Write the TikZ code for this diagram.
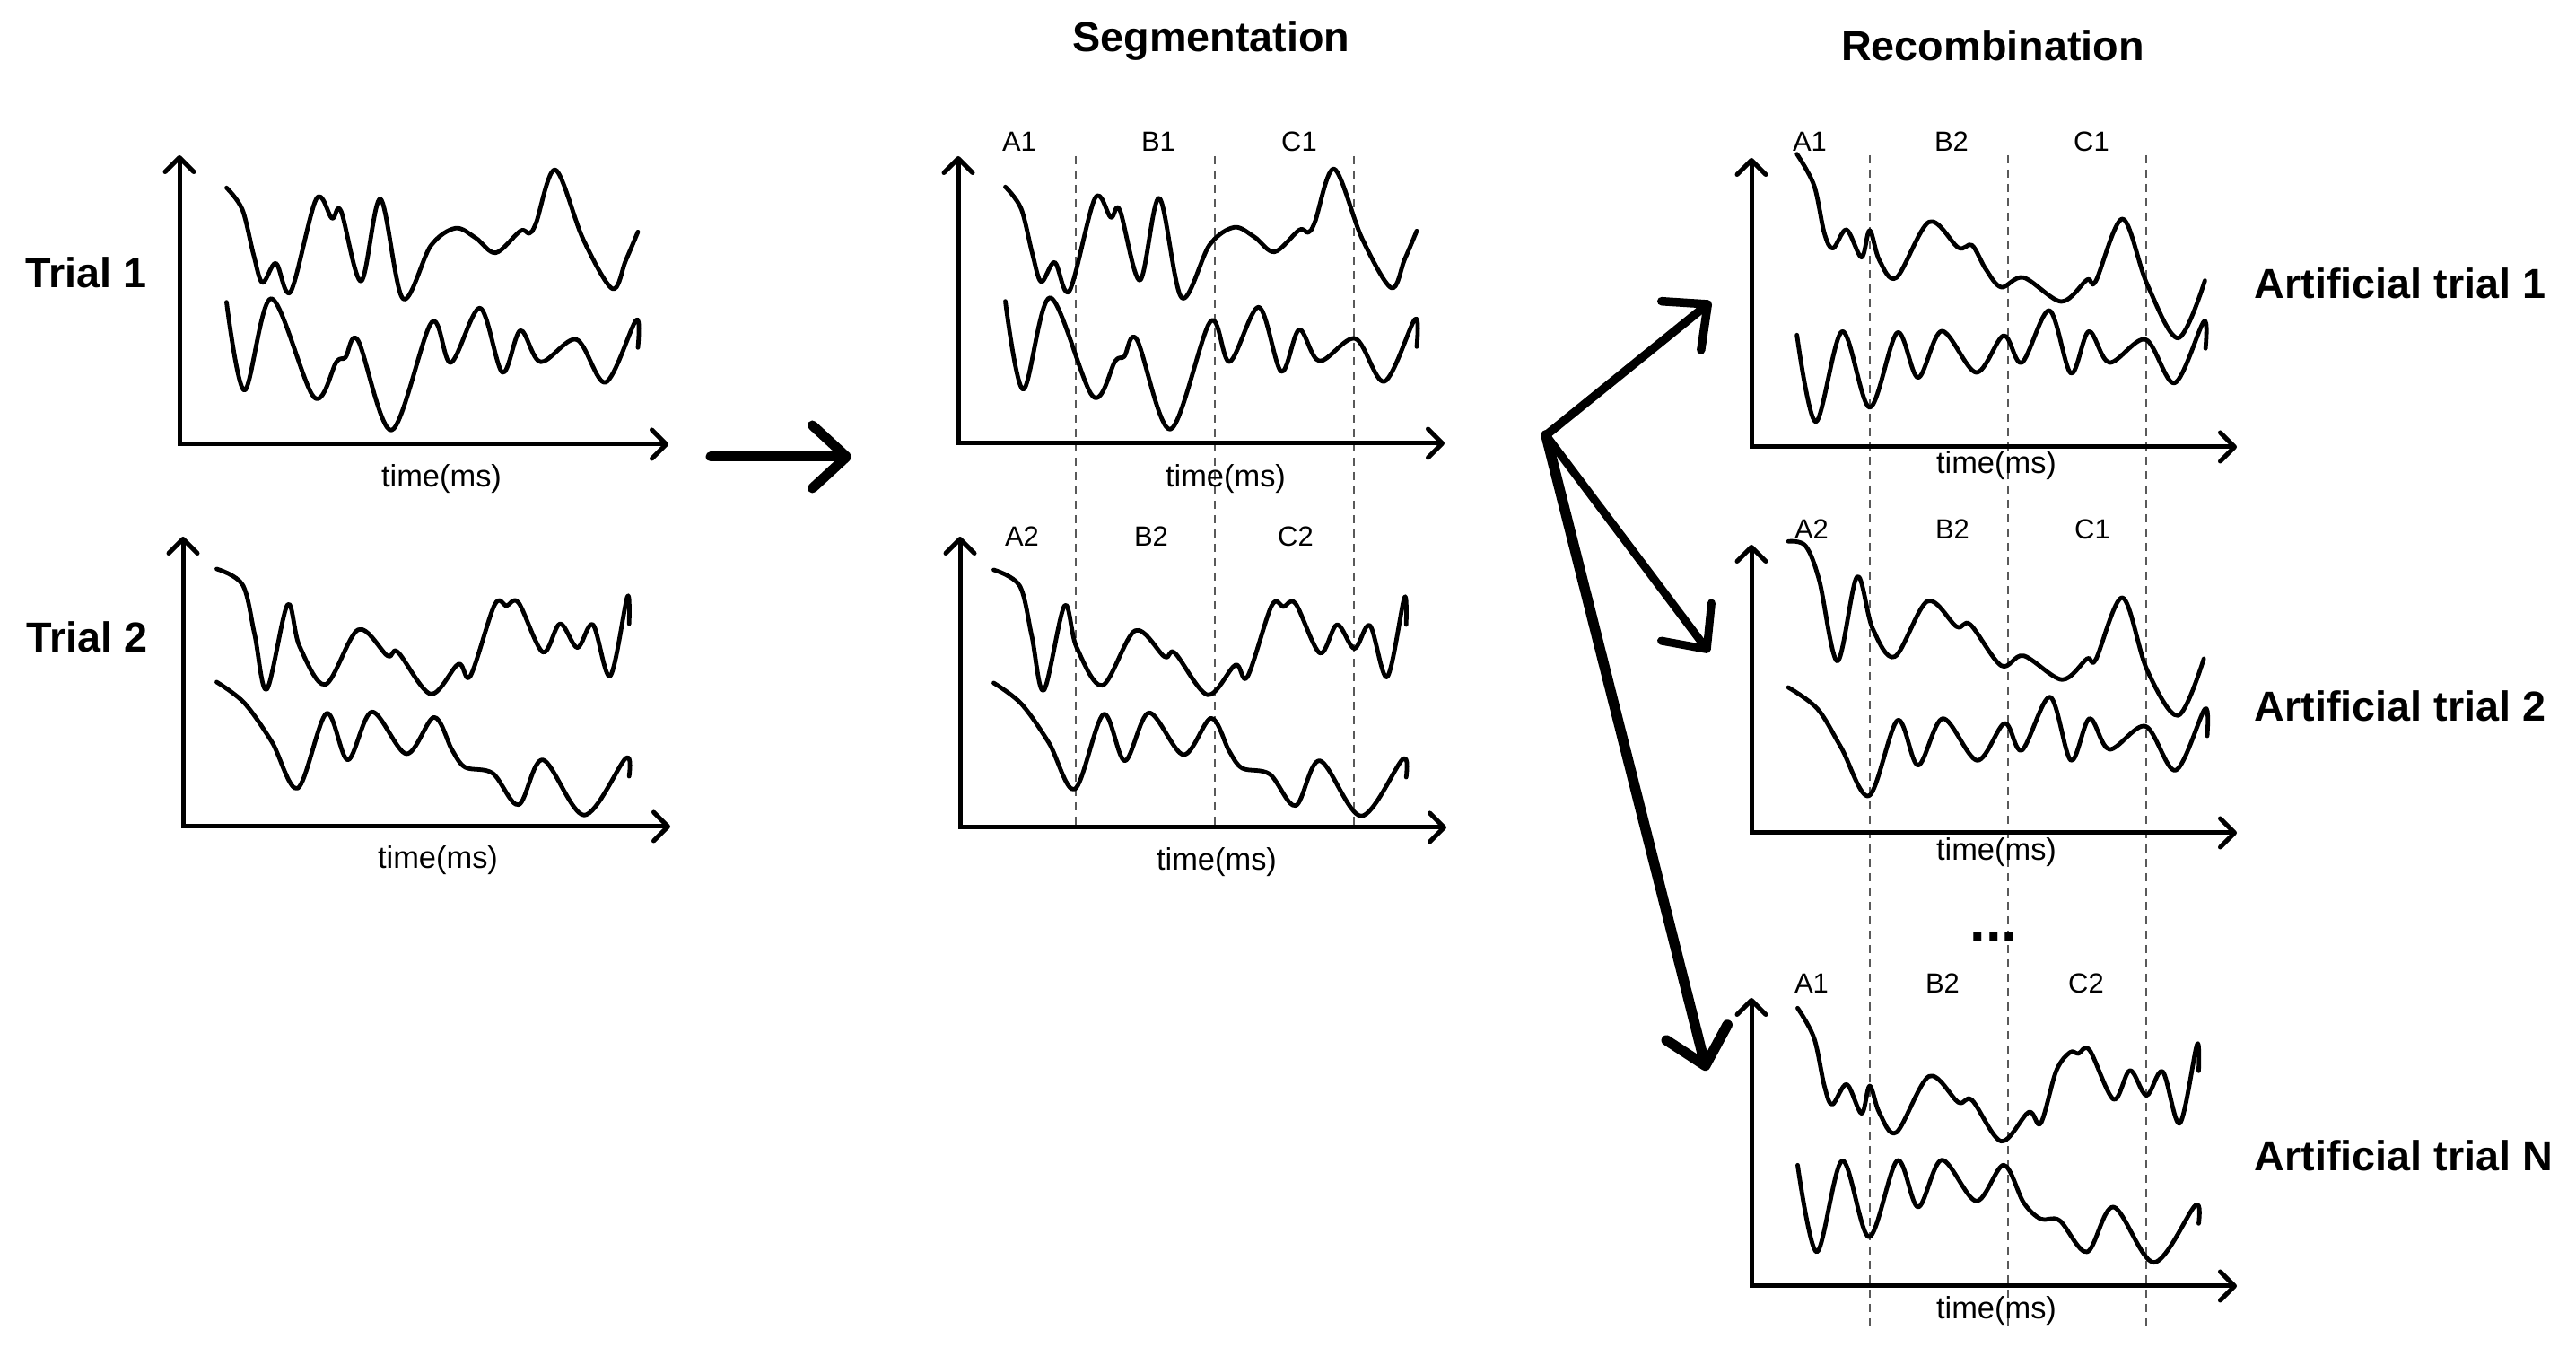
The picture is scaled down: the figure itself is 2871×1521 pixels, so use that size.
\documentclass[tikz,border=0pt]{standalone}
\usepackage{fontspec}
\setmainfont{Liberation Sans}
\usetikzlibrary{arrows.meta}
\tikzset{
  wave/.style={line width=0.48mm, line cap=round, line join=round},
  axis/.style={line width=0.5mm, line join=miter,
    {Straight Barb[length=1.6mm,width=3.2mm,round]}-{Straight Barb[length=1.6mm,width=3.2mm,round]}},
  segline/.style={line width=0.18mm, black!65, dash pattern=on 0.9mm off 0.7mm},
  bigarrow/.style={line width=1mm, line cap=round, -{Straight Barb[length=3.8mm,width=7mm,round]}},
  ttl/.style={font=\fontsize{13.3}{15}\selectfont\bfseries, inner sep=0pt},
  lbl/.style={font=\fontsize{8.8}{10}\selectfont, inner sep=0pt},
  tms/.style={font=\fontsize{9.8}{11}\selectfont, inner sep=0pt},
}
\newcommand\wvplot[1]{\draw[wave] plot[smooth,tension=0.55] coordinates {#1};}
\newcommand\waveTrialOneA{\wvplot{(52.5,-285.7) (70,-261.7) (82.5,-211.7) (92.5,-180) (107.5,-201.7) (124,-170) (152.5,-273.3) (170,-251.7) (180,-260) (202.5,-181.7) (224,-273.3) (249,-162.3) (280,-221) (307.5,-240.7) (330,-230) (352.5,-213.3) (380,-237.7) (390,-235) (397.5,-246.7) (419,-305.7) (450,-228.3) (482.5,-173.3) (497.5,-205) (511,-236.7)}}
\newcommand\waveTrialOneB{\wvplot{(52.5,-158.3) (72.5,-60) (102.5,-162.3) (150,-52.3) (175,-91.7) (185,-96.7) (199,-115.7) (236.5,-15.7) (281,-135.7) (302.5,-91) (335,-151.7) (360,-80) (380,-126.7) (402.5,-91.7) (442.5,-116.7) (475,-69) (509,-138.3) (511,-107.7)}}
\newcommand\waveTrialTwoA{\wvplot{(37.5,-287) (66.4,-269.3) (79.8,-214) (93.3,-152.7) (116.4,-247) (129.8,-201) (158.7,-158.3) (195.2,-219.3) (227.9,-190.3) (239.5,-194.3) (276,-147.7) (306.8,-181) (320.2,-167.7) (347.2,-247) (360.6,-246) (374,-249.3) (401,-194.3) (420.2,-226) (439.5,-199.3) (456.8,-225) (476,-167.7) (495.2,-256) (497.2,-226)}}
\newcommand\waveTrialTwoB{\wvplot{(37.5,-161) (68.3,-137.7) (99,-94.3) (127.9,-42.7) (159.8,-126) (183.7,-74.3) (210.6,-127.7) (249,-81) (279.8,-121.7) (300,-85) (314.5,-66) (345.2,-59.3) (374,-24.3) (401,-74.3) (447.2,-12.7) (493.3,-76) (497.2,-56)}}
\newcommand\axesbox[2]{\draw[axis] (0,#1) -- (0,0) -- (#2,0);}
\begin{document}
\begin{tikzpicture}[x=0.1mm,y=-0.1mm]
\useasboundingbox (0,0) rectangle (2871,1521);
\fill[white] (0,0) rectangle (2871,1521);

% ---------- titles ----------
\node[ttl] (segtitle) at (1350,46) {Segmentation};
\node[ttl] (rectitle) at (2221,51) {Recombination};
\node[ttl] (trial1) at (96,304) {Trial 1};
\node[ttl] (trial2) at (97,710) {Trial 2};
\node[ttl, anchor=west] (art1) at (2512,316) {Artificial trial 1};
\node[ttl, anchor=west] (art2) at (2512,787) {Artificial trial 2};
\node[ttl, anchor=west] (artN) at (2512,1288) {Artificial trial N};

% ---------- dashed segment lines ----------
\foreach \xx in {1199,1354,1509} {\draw[segline] (\xx,174) -- (\xx,922);}
\foreach \xx in {2084,2238,2392} {\draw[segline] (\xx,173) -- (\xx,1482);}

% ---------- Trial 1 ----------
\begin{scope}[shift={(200,495)}]
  \axesbox{-322}{545}
  \waveTrialOneA \waveTrialOneB
\end{scope}
\node[tms] (tm1) at (492,534) {time(ms)};

% ---------- Trial 2 ----------
\begin{scope}[shift={(204,921)}]
  \axesbox{-323}{543}
  \waveTrialTwoA \waveTrialTwoB
\end{scope}
\node[tms] (tm2) at (488,959) {time(ms)};

% ---------- Segmentation 1 ----------
\begin{scope}[shift={(1068,494)}]
  \axesbox{-320}{542}
  \waveTrialOneA \waveTrialOneB
\end{scope}
\node[tms] (tm3) at (1366,534) {time(ms)};
\node[lbl] (sa1) at (1136,158) {A1};
\node[lbl] (sb1) at (1291,158) {B1};
\node[lbl] (sc1) at (1448,158) {C1};

% ---------- Segmentation 2 ----------
\begin{scope}[shift={(1070,922)}]
  \axesbox{-324}{542}
  \waveTrialTwoA \waveTrialTwoB
\end{scope}
\node[tms] (tm4) at (1356,961) {time(ms)};
\node[lbl] (sa2) at (1139,598) {A2};
\node[lbl] (sb2) at (1283,598) {B2};
\node[lbl] (sc2) at (1444,598) {C2};

% ---------- Artificial trial 1 ----------
\begin{scope}[shift={(1952,498)}]
  \axesbox{-322}{541}
  \wvplot{(50.7,-326.3) (69.8,-291.3) (81.3,-238) (90.9,-221.3) (106,-242) (122.7,-211.3) (131.8,-241.3) (142.6,-208) (161.7,-188.7) (198,-250.7) (230.6,-222) (245.9,-224.7) (261.2,-198) (278.4,-178) (303.3,-188.7) (345.4,-162) (374.1,-186.3) (383.7,-184.7) (413.5,-254) (441,-181.3) (475.5,-121.3) (505.4,-185.3)}
  \wvplot{(50.7,-124.7) (71.8,-28) (101.2,-128.7) (131.8,-44) (162.5,-127.3) (185.8,-77.3) (212.2,-129) (250.5,-83) (281.1,-124) (301.4,-94) (332,-152) (356.1,-82) (376,-128.7) (399,-94) (439.2,-119.7) (471.7,-71.3) (504.2,-139.7) (506.1,-109.7)}
\end{scope}
\node[tms] (tm5) at (2225,519) {time(ms)};
\node[lbl] (ra1) at (2017,158) {A1};
\node[lbl] (rb1) at (2175,158) {B2};
\node[lbl] (rc1) at (2331,158) {C1};

% ---------- Artificial trial 2 ----------
\begin{scope}[shift={(1952,928)}]
  \axesbox{-321}{541}
  \wvplot{(41.1,-324.7) (60.3,-319.7) (75.6,-281.3) (95.9,-191.3) (117.7,-285.3) (134.9,-228) (159.8,-196.3) (196.1,-258) (228.7,-229.7) (244,-232) (278.4,-186.3) (303.3,-197.3) (346.2,-170.7) (374.1,-194) (383.7,-193) (413.5,-262) (441,-181.3) (475.5,-130.7) (504.2,-194)}
  \wvplot{(41.1,-162) (73.7,-138) (100,-95) (131.1,-41.3) (162.8,-125.3) (185.8,-75.3) (213.4,-127.3) (251.6,-80.7) (282.2,-122) (301.4,-92) (332.8,-151.3) (356.1,-80.7) (376.8,-127.3) (399,-93) (439.2,-118.7) (472.8,-69.7) (505.4,-138) (508,-108)}
\end{scope}
\node[tms] (tm6) at (2225,950) {time(ms)};
\node[lbl] (ra2) at (2019,590) {A2};
\node[lbl] (rb2) at (2176,590) {B2};
\node[lbl] (rc2) at (2332,590) {C1};

% ---------- Artificial trial N ----------
\begin{scope}[shift={(1952,1433)}]
  \axesbox{-321}{541}
  \wvplot{(51.5,-309.7) (69.8,-276.3) (81.3,-223) (90.1,-202.3) (106.2,-224.7) (122.7,-192.3) (131.8,-223) (142.6,-193) (161.7,-171.3) (198,-233.7) (230.6,-204.7) (245.9,-207) (278.4,-161.3) (309,-193.7) (322.4,-181.3) (339.7,-239.7) (355,-260.3) (364.5,-259) (376.8,-263) (403.6,-208) (421.9,-240.3) (440.3,-212.3) (458.3,-239) (477.4,-181.3) (496.6,-269) (498.5,-239.7)}
  \wvplot{(51.5,-134.7) (72.9,-38) (101.2,-139.7) (131.1,-54.7) (162.5,-139.7) (185.8,-88) (212.2,-140.3) (250.5,-94.7) (281.1,-134.7) (303.3,-93) (322.4,-74.7) (343.5,-73) (374.1,-38) (403.6,-88) (448.7,-26.3) (494.6,-89.7) (498.5,-69.7)}
\end{scope}
\node[tms] (tm7) at (2225,1461) {time(ms)};
\node[lbl] (ra3) at (2019,1096) {A1};
\node[lbl] (rb3) at (2165,1096) {B2};
\node[lbl] (rc3) at (2325,1096) {C2};
\node[font=\fontsize{18}{20}\selectfont\bfseries, inner sep=0pt] (dots) at (2222,1044) {...};

% ---------- arrows ----------
\coordinate (la0) at (792,509);
\coordinate (la1) at (949,509);
\draw[bigarrow, line width=1.1mm] (la0) -- (la1);
\coordinate (fan) at (1723,485);
\coordinate (f1) at (1907,336);
\coordinate (f2) at (1905,727);
\coordinate (f3) at (1902,1193);
\draw[bigarrow, line width=0.95mm] (fan) -- (f1);
\draw[bigarrow, line width=0.9mm] (fan) -- (f2);
\draw[bigarrow, line width=1.15mm] (fan) -- (f3);
\end{tikzpicture}
\end{document}
